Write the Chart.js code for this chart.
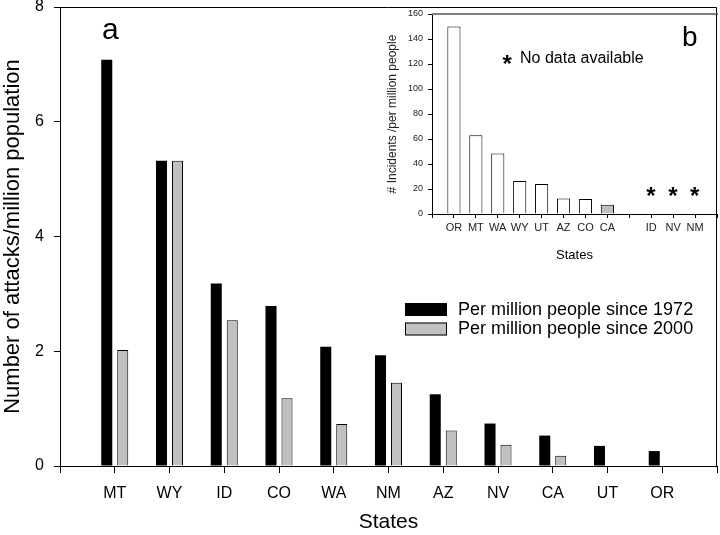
<!DOCTYPE html>
<html>
<head>
<meta charset="utf-8">
<script src="https://cdn.jsdelivr.net/npm/chart.js@4"></script>
<style>
  body { margin: 0; background: #fff; }
  #wrap { position: relative; width: 720px; height: 535px; }
  #chartA { position: absolute; left: 0; top: 0; }
  #chartB { position: absolute; left: 370px; top: 0; }
</style>
</head>
<body>
<div id="wrap">
  <canvas id="chartA" width="720" height="535"></canvas>
  <canvas id="chartB" width="350" height="270"></canvas>
</div>
<script>
// panel a
const states = ["MT", "WY", "ID", "CO", "WA", "NM", "AZ", "NV", "CA", "UT", "OR"];
const since1972 = [7.08, 5.32, 3.18, 2.79, 2.08, 1.93, 1.25, 0.74, 0.53, 0.35, 0.26];
const since2000 = [2.02, 5.32, 2.54, 1.18, 0.73, 1.45, 0.62, 0.37, 0.18, null, null];
const yTicksA = [0, 2, 4, 6, 8];

// panel b (inset)
const insetStates = ["OR", "MT", "WA", "WY", "UT", "AZ", "CO", "CA"];
const insetIncidents = [150, 63, 48.5, 26.5, 24, 12.5, 12, 7.5];
const noDataStates = ["ID", "NV", "NM"];
const noDataMark = 18;
const yTicksB = [0, 20, 40, 60, 80, 100, 120, 140, 160];

const FONT = "'Liberation Sans', Arial, sans-serif";
Chart.defaults.font.family = FONT;
const gray = "#c0c0c0";

// blank slots at both ends so ticks sit on the frame edges
const labelsA = ["", ...states, ""];
const padA = (arr) => [null, ...arr, null];

// inset: blank slot between CA and the no-data states
const labelsB = ["", ...insetStates, "", ...noDataStates, ""];
const dataB = labelsB.map((s) => {
  const i = insetStates.indexOf(s);
  return s && i >= 0 ? insetIncidents[i] : null;
});

function centerText(ctx, txt, cx, cy) {
  const m = ctx.measureText(txt);
  const x = cx - (m.actualBoundingBoxRight - m.actualBoundingBoxLeft) / 2;
  const y = cy + (m.actualBoundingBoxAscent - m.actualBoundingBoxDescent) / 2;
  ctx.fillText(txt, x, y);
}

const decorA = {
  id: "decorA",
  afterDraw(chart) {
    const { ctx, chartArea: a } = chart;
    ctx.save();
    ctx.strokeStyle = "#000";
    ctx.lineWidth = 1;
    ctx.beginPath();
    ctx.moveTo(a.left, a.top + 0.5);
    ctx.lineTo(a.right - 0.5, a.top + 0.5);
    ctx.lineTo(a.right - 0.5, a.bottom);
    ctx.stroke();

    ctx.fillStyle = "#000";
    ctx.textAlign = "left";
    ctx.textBaseline = "alphabetic";
    ctx.font = "30px " + FONT;
    ctx.fillText("a", 102, 39);

    // legend
    const ds = chart.data.datasets;
    ctx.font = "18px " + FONT;
    ctx.textBaseline = "middle";
    ds.forEach((d, i) => {
      const y = 303 + i * 19.5;
      ctx.fillStyle = d.backgroundColor;
      ctx.fillRect(405, y, 42, 13);
      if (d.borderWidth) {
        ctx.strokeStyle = "#000";
        ctx.strokeRect(405.5, y + 0.5, 41, 12);
      }
      ctx.fillStyle = "#000";
      ctx.fillText(d.label, 458, y + 7);
    });
    ctx.restore();
  }
};

new Chart(document.getElementById("chartA"), {
  type: "bar",
  data: {
    labels: labelsA,
    datasets: [
      {
        label: "Per million people since 1972",
        data: padA(since1972),
        backgroundColor: "#000",
        borderColor: "#000",
        borderWidth: 0
      },
      {
        label: "Per million people since 2000",
        data: padA(since2000),
        backgroundColor: gray,
        borderColor: "#000",
        borderWidth: 1
      }
    ]
  },
  options: {
    responsive: false,
    animation: false,
    devicePixelRatio: 1,
    layout: { padding: { top: 7, right: 3, left: 0, bottom: 0 } },
    datasets: { bar: { categoryPercentage: 0.584, barPercentage: 0.69 } },
    plugins: { legend: { display: false }, tooltip: { enabled: false } },
    scales: {
      x: {
        offset: false,
        grid: { offset: false, drawOnChartArea: false, tickLength: 7, color: "#000" },
        border: { color: "#000" },
        ticks: { font: { size: 16 }, color: "#000", padding: 11, autoSkip: false, maxRotation: 0 },
        title: { display: true, text: "States", font: { size: 21 }, color: "#000", padding: { top: 0, bottom: 0 } },
        afterFit: (s) => { s.height = 69; s.paddingLeft = 0; s.paddingRight = 0; }
      },
      y: {
        min: 0,
        max: 8,
        grid: { drawOnChartArea: false, tickLength: 6, color: "#000" },
        border: { color: "#000" },
        ticks: { font: { size: 16 }, color: "#000", padding: 10 },
        afterBuildTicks: (s) => { s.ticks = yTicksA.map((v) => ({ value: v })); },
        title: { display: true, text: "Number of attacks/million population", font: { size: 22 }, color: "#000", padding: { top: 0, bottom: 0 } },
        afterFit: (s) => { s.width = 60; s.paddingTop = 0; s.paddingBottom = 0; }
      }
    }
  },
  plugins: [decorA]
});

const decorB = {
  id: "decorB",
  afterDraw(chart) {
    const { ctx, chartArea: a, scales } = chart;
    ctx.save();
    ctx.strokeStyle = "#808080";
    ctx.lineWidth = 2;
    ctx.beginPath();
    ctx.moveTo(a.left, a.top);
    ctx.lineTo(a.right + 1, a.top);
    ctx.stroke();
    ctx.strokeStyle = "#000";
    ctx.lineWidth = 1;
    ctx.beginPath();
    ctx.moveTo(a.right - 0.5, a.top);
    ctx.lineTo(a.right - 0.5, a.bottom);
    ctx.stroke();

    ctx.fillStyle = "#000";
    ctx.textBaseline = "alphabetic";
    ctx.textAlign = "left";
    ctx.font = "28px " + FONT;
    ctx.fillText("b", 312, 46);

    ctx.font = "16px " + FONT;
    ctx.fillText("No data available", 150, 63);
    ctx.font = "bold 24px " + FONT;
    centerText(ctx, "*", 137.5, 59);

    noDataStates.forEach((s) => {
      const x = scales.x.getPixelForValue(labelsB.indexOf(s));
      const y = scales.y.getPixelForValue(noDataMark);
      centerText(ctx, "*", x, y);
    });
    ctx.restore();
  }
};

new Chart(document.getElementById("chartB"), {
  type: "bar",
  data: {
    labels: labelsB,
    datasets: [
      {
        label: "# Incidents /per million people",
        data: dataB,
        backgroundColor: (c) => (labelsB[c.dataIndex] === "CA" ? gray : "#fff"),
        borderColor: "#000",
        borderWidth: 1
      }
    ]
  },
  options: {
    responsive: false,
    animation: false,
    devicePixelRatio: 1,
    layout: { padding: { top: 14, right: 3, left: 0, bottom: 0 } },
    datasets: { bar: { categoryPercentage: 1, barPercentage: 0.6 } },
    plugins: { legend: { display: false }, tooltip: { enabled: false } },
    scales: {
      x: {
        offset: false,
        grid: { offset: false, drawOnChartArea: false, tickLength: 4, color: "#000" },
        border: { color: "#000" },
        ticks: { font: { size: 11 }, color: "#222", padding: 3, autoSkip: false, maxRotation: 0 },
        title: { display: true, text: "States", font: { size: 13 }, color: "#000", padding: { top: 0, bottom: 7 } },
        afterFit: (s) => { s.height = 56; s.paddingLeft = 0; s.paddingRight = 0; }
      },
      y: {
        min: 0,
        max: 160,
        grid: { drawOnChartArea: false, tickLength: 4, color: "#000" },
        border: { color: "#000" },
        ticks: { font: { size: 9 }, color: "#222", padding: 5 },
        afterBuildTicks: (s) => { s.ticks = yTicksB.map((v) => ({ value: v })); },
        title: { display: true, text: "# Incidents /per million people", font: { size: 12 }, color: "#222", padding: { top: 15, bottom: 0 } },
        afterFit: (s) => { s.width = 62; s.paddingTop = 0; s.paddingBottom = 0; }
      }
    }
  },
  plugins: [decorB]
});
</script>
</body>
</html>
